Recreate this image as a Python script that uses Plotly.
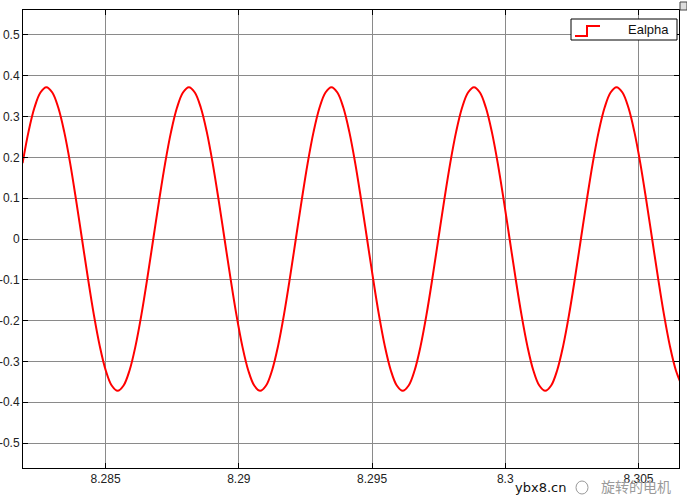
import plotly.graph_objects as go

# Sample times (s) (15-degree points between peaks/troughs/zero crossings)
t = [8.281885, 8.282108, 8.282331, 8.282554,
     8.282777, 8.283000, 8.283223, 8.283446, 8.283669, 8.283891, 8.284114, 8.284337,
     8.284560, 8.284783, 8.285006, 8.285229, 8.285452, 8.285675, 8.285898, 8.286120,
     8.286343, 8.286566, 8.286789, 8.287012, 8.287235, 8.287458, 8.287681, 8.287904,
     8.288127, 8.288349, 8.288572, 8.288795, 8.289018, 8.289241, 8.289464, 8.289687,
     8.289910, 8.290133, 8.290355, 8.290578, 8.290801, 8.291024, 8.291247, 8.291470,
     8.291693, 8.291916, 8.292139, 8.292362, 8.292584, 8.292807, 8.293030, 8.293253,
     8.293476, 8.293699, 8.293922, 8.294145, 8.294368, 8.294590, 8.294813, 8.295036,
     8.295259, 8.295482, 8.295705, 8.295928, 8.296151, 8.296374, 8.296597, 8.296819,
     8.297042, 8.297265, 8.297488, 8.297711, 8.297934, 8.298157, 8.298380, 8.298603,
     8.298826, 8.299048, 8.299271, 8.299494, 8.299717, 8.299940, 8.300163, 8.300386,
     8.300609, 8.300832, 8.301054, 8.301277, 8.301500, 8.301723, 8.301946, 8.302169,
     8.302392, 8.302615, 8.302838, 8.303061, 8.303283, 8.303506, 8.303729, 8.303952,
     8.304175, 8.304398, 8.304621, 8.304844, 8.305067, 8.305289, 8.305512, 8.305735,
     8.305958, 8.306181, 8.306404, 8.306627]

ealpha = [0.186, 0.263, 0.322, 0.359,
          0.372, 0.359, 0.322, 0.263, 0.186, 0.096, 0.0, -0.096,
          -0.186, -0.263, -0.322, -0.359, -0.372, -0.359, -0.322, -0.263,
          -0.186, -0.096, 0.0, 0.096, 0.186, 0.263, 0.322, 0.359,
          0.372, 0.359, 0.322, 0.263, 0.186, 0.096, 0.0, -0.096,
          -0.186, -0.263, -0.322, -0.359, -0.372, -0.359, -0.322, -0.263,
          -0.186, -0.096, 0.0, 0.096, 0.186, 0.263, 0.322, 0.359,
          0.372, 0.359, 0.322, 0.263, 0.186, 0.096, 0.0, -0.096,
          -0.186, -0.263, -0.322, -0.359, -0.372, -0.359, -0.322, -0.263,
          -0.186, -0.096, 0.0, 0.096, 0.186, 0.263, 0.322, 0.359,
          0.372, 0.359, 0.322, 0.263, 0.186, 0.096, 0.0, -0.096,
          -0.186, -0.263, -0.322, -0.359, -0.372, -0.359, -0.322, -0.263,
          -0.186, -0.096, 0.0, 0.096, 0.186, 0.263, 0.322, 0.359,
          0.372, 0.359, 0.322, 0.263, 0.186, 0.096, 0.0, -0.096,
          -0.186, -0.263, -0.322, -0.359]

x_tickvals = [8.285, 8.29, 8.295, 8.3, 8.305]
x_ticktext = ["8.285", "8.29", "8.295", "8.3", "8.305"]
y_tickvals = [0.5, 0.4, 0.3, 0.2, 0.1, 0.0, -0.1, -0.2, -0.3, -0.4, -0.5]
y_ticktext = ["0.5", "0.4", "0.3", "0.2", "0.1", "0", "-0.1", "-0.2", "-0.3", "-0.4", "-0.5"]

series_name = "Ealpha"

W, H = 687, 495
PL, PR, PT, PB = 23, 679, 10, 468   # plot area in pixels


def px(x):
    return x / W


def py(y):
    return (H - y) / H


fig = go.Figure()
fig.add_trace(go.Scatter(
    x=t, y=ealpha, mode="lines", name=series_name,
    line=dict(color="#ff0000", width=2, shape="spline", smoothing=1.0),
    showlegend=False, hoverinfo="skip",
))

font = dict(family="Liberation Sans, Arial, sans-serif", size=12, color="#222222")

fig.update_layout(
    width=W, height=H,
    margin=dict(l=0, r=0, t=0, b=0, autoexpand=False),
    paper_bgcolor="white", plot_bgcolor="white",
    font=font,
    xaxis=dict(
        domain=[px(PL), px(PR)],
        range=[8.2819, 8.30652],
        tickvals=x_tickvals, ticktext=x_ticktext,
        showgrid=True, gridcolor="#8a8a8a", gridwidth=1,
        showline=True, linecolor="black", linewidth=1, mirror="allticks",
        ticks="inside", ticklen=5, tickcolor="black",
        zeroline=False, tickfont=font, automargin=False,
    ),
    yaxis=dict(
        domain=[py(PB), py(PT)],
        range=[-0.561, 0.561],
        tickvals=y_tickvals, ticktext=y_ticktext,
        showgrid=True, gridcolor="#8a8a8a", gridwidth=1,
        showline=True, linecolor="black", linewidth=1, mirror="allticks",
        ticks="inside", ticklen=5, tickcolor="black",
        zeroline=False, tickfont=font, automargin=False,
    ),
    shapes=[
        # legend box
        dict(type="rect", xref="paper", yref="paper",
             x0=px(571), x1=px(677), y0=py(40), y1=py(19),
             line=dict(color="black", width=1), fillcolor="white", layer="above"),
        # legend step icon
        dict(type="path", xref="paper", yref="paper",
             path=f"M {px(575)} {py(36)} L {px(587)} {py(36)} L {px(587)} {py(26)} L {px(600)} {py(26)}",
             line=dict(color="#ff0000", width=2), layer="above"),
        # small corner icon
        dict(type="rect", xref="paper", yref="paper",
             x0=px(680), x1=px(687), y0=py(10), y1=py(2),
             line=dict(color="#444444", width=1), fillcolor="#dddddd", layer="above"),
        # watermark logo circle
        dict(type="circle", xref="paper", yref="paper",
             x0=px(576), x1=px(588), y0=py(494), y1=py(481),
             line=dict(color="#9a9a9a", width=1), layer="above"),
    ],
    annotations=[
        dict(text=series_name, xref="paper", yref="paper",
             x=px(671), y=py(30), xanchor="right", yanchor="middle",
             showarrow=False, font=dict(family="Liberation Sans, Arial, sans-serif", size=13, color="#111111")),
        dict(text="ybx8.cn", xref="paper", yref="paper",
             x=px(540), y=py(487), xanchor="center", yanchor="middle",
             showarrow=False, font=dict(family="DejaVu Sans, sans-serif", size=13, color="#111111")),
        dict(text="旋转的电机", xref="paper", yref="paper",
             x=px(636), y=py(486), xanchor="center", yanchor="middle",
             showarrow=False, font=dict(family="Noto Sans CJK SC, sans-serif", size=14, color="#9a9a9a")),
    ],
)

fig.write_html(
    "out.html",
    config={"displayModeBar": False},
    post_script="document.body.style.margin='0';document.body.style.overflow='hidden';",
)
